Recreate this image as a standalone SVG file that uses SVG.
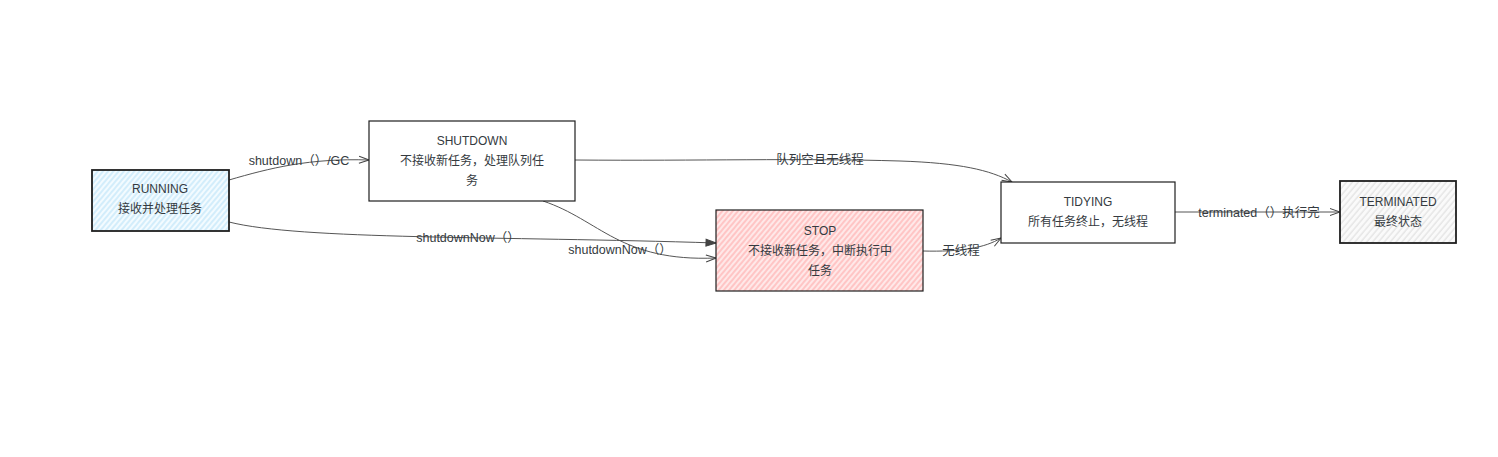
<svg xmlns="http://www.w3.org/2000/svg" width="1498" height="457" viewBox="0 0 1498 457">
<defs>
<pattern id="hBlue" patternUnits="userSpaceOnUse" width="4" height="4" patternTransform="rotate(40)">
<rect width="4" height="4" fill="#f3fbff"/><line x1="1" y1="0" x2="1" y2="4" stroke="#c5e8fa" stroke-width="1.4"/>
</pattern>
<pattern id="hPink" patternUnits="userSpaceOnUse" width="4" height="4" patternTransform="rotate(40)">
<rect width="4" height="4" fill="#ffe8e8"/><line x1="1" y1="0" x2="1" y2="4" stroke="#ffbcbc" stroke-width="1.6"/>
</pattern>
<pattern id="hGray" patternUnits="userSpaceOnUse" width="4.5" height="4.5" patternTransform="rotate(40)">
<rect width="4.5" height="4.5" fill="#fafafa"/><line x1="1" y1="0" x2="1" y2="4.5" stroke="#dcdcdc" stroke-width="1"/>
</pattern>
<marker id="arr" viewBox="0 0 12 10" refX="11" refY="5" markerWidth="12" markerHeight="10" markerUnits="userSpaceOnUse" orient="auto">
<path d="M1,1.5 L11,5 L1,8.5" fill="none" stroke="#444" stroke-width="1"/>
</marker>
<marker id="arrF" viewBox="0 0 12 10" refX="11" refY="5" markerWidth="12" markerHeight="10" markerUnits="userSpaceOnUse" orient="auto">
<path d="M1,1.5 L11,5 L1,8.5 Z" fill="#444" stroke="#444" stroke-width="1"/>
</marker>
</defs>
<style>
.n{stroke:#1e1e1e;stroke-width:1.2}
.nb{stroke:#1e1e1e;stroke-width:1.8}
.t{font-family:"Liberation Sans","Noto Sans CJK SC",sans-serif;font-size:12px;fill:#343a40;text-anchor:middle}
.c{fill:none;stroke:#555;stroke-width:1}
.lb{font-family:"Liberation Sans","Noto Sans CJK SC",sans-serif;font-size:12.5px;fill:#343a40;text-anchor:middle}
</style>
<rect width="1498" height="457" fill="#ffffff"/>
<g id="connectors">
<path class="c" d="M229,180 C270,168 310,158 369,160" marker-end="url(#arr)"/>
<text class="lb" x="299" y="165">shutdown（）/GC</text>
<path class="c" d="M229,222 C300,240 500,236 716,243" marker-end="url(#arrF)"/>
<text class="lb" x="468" y="242">shutdownNow（）</text>
<path class="c" d="M543,201 C600,220 620,262 716,258" marker-end="url(#arr)"/>
<text class="lb" x="620" y="254">shutdownNow（）</text>
<path class="c" d="M575,160 C700,161 800,158 900,161 C960,163 990,170 1012,182" marker-end="url(#arr)"/>
<text class="lb" x="820" y="164">队列空且无线程</text>
<path class="c" d="M923,251 C960,252 985,248 1001,238" marker-end="url(#arr)"/>
<text class="lb" x="961" y="255">无线程</text>
<path class="c" d="M1175,212 L1340,212" marker-end="url(#arr)"/>
<text class="lb" x="1259" y="217">terminated（）执行完</text>
</g>
<g id="running">
<rect class="nb" x="92" y="170" width="137" height="61" fill="url(#hBlue)"/>
<text class="t" x="160" y="193">RUNNING</text>
<text class="t" x="160" y="213">接收并处理任务</text>
</g>
<g id="shutdown">
<rect class="n" x="369" y="121" width="206" height="80" fill="#ffffff"/>
<text class="t" x="472" y="145">SHUTDOWN</text>
<text class="t" x="472" y="165">不接收新任务，处理队列任</text>
<text class="t" x="472" y="185">务</text>
</g>
<g id="stop">
<rect class="n" x="716" y="210" width="207" height="81" fill="url(#hPink)"/>
<text class="t" x="820" y="235">STOP</text>
<text class="t" x="820" y="255">不接收新任务，中断执行中</text>
<text class="t" x="820" y="275">任务</text>
</g>
<g id="tidying">
<rect class="n" x="1001" y="182" width="174" height="61" fill="#ffffff"/>
<text class="t" x="1088" y="206">TIDYING</text>
<text class="t" x="1088" y="226">所有任务终止，无线程</text>
</g>
<g id="terminated">
<rect class="nb" x="1340" y="181" width="116" height="62" fill="url(#hGray)"/>
<text class="t" x="1398" y="206">TERMINATED</text>
<text class="t" x="1398" y="226">最终状态</text>
</g>
</svg>
